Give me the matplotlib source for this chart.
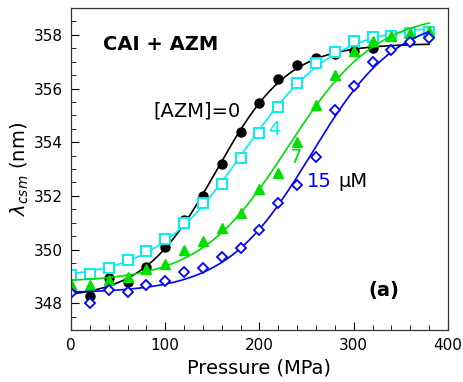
import numpy as np
import matplotlib
matplotlib.use('Agg')
import matplotlib.pyplot as plt
from matplotlib.ticker import MultipleLocator

# pressure (MPa) and lambda_csm (nm) for each [AZM]
p_azm0 = [20, 40, 60, 80, 100, 120, 140, 160, 180, 200, 220, 240, 260, 280, 300, 320]
l_azm0 = [348.26, 348.94, 348.79, 349.35, 350.1, 351.1, 352.0, 353.2, 354.37, 355.45,
          356.35, 356.88, 357.14, 357.3, 357.4, 357.5]

p_azm4 = [0, 20, 40, 60, 80, 100, 120, 140, 160, 180, 200, 220, 240, 260, 280, 300, 320, 340, 360, 380]
l_azm4 = [349.05, 349.08, 349.3, 349.6, 349.95, 350.4, 351.0, 351.75, 352.45, 353.4,
          354.35, 355.3, 356.2, 356.95, 357.36, 357.78, 357.93, 357.97, 358.07, 358.1]

p_azm7 = [0, 20, 40, 60, 80, 100, 120, 140, 160, 180, 200, 220, 240, 260, 280, 300, 320, 340, 360, 380]
l_azm7 = [348.7, 348.67, 348.85, 348.97, 349.27, 349.46, 350.0, 350.3, 350.8, 351.35,
          352.27, 352.85, 354.0, 355.38, 356.5, 357.4, 357.78, 357.96, 358.07, 358.15]

p_azm15 = [0, 20, 40, 60, 80, 100, 120, 140, 160, 180, 200, 220, 240, 260, 280, 300, 320, 340, 360, 380]
l_azm15 = [348.37, 348.0, 348.48, 348.41, 348.67, 348.82, 349.16, 349.3, 349.72, 350.06,
           350.73, 351.72, 352.42, 353.43, 355.2, 356.1, 357.0, 357.44, 357.74, 357.9]


def boltzmann_fit(x, y):
    # two-state fit: grid over midpoint/width, linear lsq for plateaus
    x = np.asarray(x, float)
    y = np.asarray(y, float)
    best = None
    for x0 in np.arange(60, 360, 1.0):
        for dx in np.arange(8, 90, 0.5):
            s = 1.0 / (1.0 + np.exp(-(x - x0) / dx))
            A = np.column_stack([np.ones_like(s), s])
            coef, res, _, _ = np.linalg.lstsq(A, y, rcond=None)
            err = np.sum((A @ coef - y) ** 2)
            if best is None or err < best[0]:
                best = (err, x0, dx, coef)
    _, x0, dx, coef = best
    xf = np.linspace(0, 380, 200)
    yf = coef[0] + coef[1] / (1.0 + np.exp(-(xf - x0) / dx))
    return xf, yf


fig = plt.figure(figsize=(4.64, 3.82), dpi=100)
ax = fig.add_axes([0.153, 0.136, 0.8125, 0.843])

series = [
    (p_azm0, l_azm0, 'black', dict(marker='o', mfc='black', ms=6.5)),
    (p_azm4, l_azm4, '#00f0f0', dict(marker='s', mfc='white', ms=6.5, mew=1.4)),
    (p_azm7, l_azm7, '#00e000', dict(marker='^', mfc='#00e000', ms=7)),
    (p_azm15, l_azm15, '#0000ff', dict(marker='D', mfc='white', ms=5, mew=1.3)),
]
for p, l, c, mk in series:
    xf, yf = boltzmann_fit(p, l)
    ax.plot(xf, yf, color=c, lw=1.2)
    ax.plot(p, l, ls='none', color=c, mec=c, **mk)

ax.set_xlim(0, 400)
ax.set_ylim(347, 359)
ax.xaxis.set_major_locator(MultipleLocator(100))
ax.xaxis.set_minor_locator(MultipleLocator(20))
ax.yaxis.set_major_locator(MultipleLocator(2))
ax.yaxis.set_minor_locator(MultipleLocator(0.5))
ax.tick_params(which='both', direction='in', top=False, right=False, labelsize=11)
ax.tick_params(which='major', length=6, pad=6)
ax.tick_params(which='minor', length=3.5)
for s in ax.spines.values():
    s.set_linewidth(0.9)
    s.set_color('#333333')

ax.set_xlabel('Pressure (MPa)', fontsize=14, labelpad=4)
ax.set_ylabel(r'$\lambda_{csm}$ (nm)', fontsize=14, labelpad=2)

ax.text(0.085, 0.888, 'CAI + AZM', transform=ax.transAxes, fontsize=14, fontweight='bold', va='center')
ax.text(0.2175, 0.68, '[AZM]=0', transform=ax.transAxes, fontsize=14, va='center')
ax.text(0.5225, 0.624, '4', transform=ax.transAxes, fontsize=14, color='#00f0f0', va='center')
ax.text(0.578, 0.537, '7', transform=ax.transAxes, fontsize=14, color='#00e000', va='center')
ax.text(0.626, 0.46, '15', transform=ax.transAxes, fontsize=14, color='#0000ff', va='center')
ax.text(0.708, 0.46, 'μM', transform=ax.transAxes, fontsize=14, color='black', va='center')
ax.text(0.788, 0.124, '(a)', transform=ax.transAxes, fontsize=14, fontweight='bold', va='center')

fig.savefig('out.png', dpi=100)
